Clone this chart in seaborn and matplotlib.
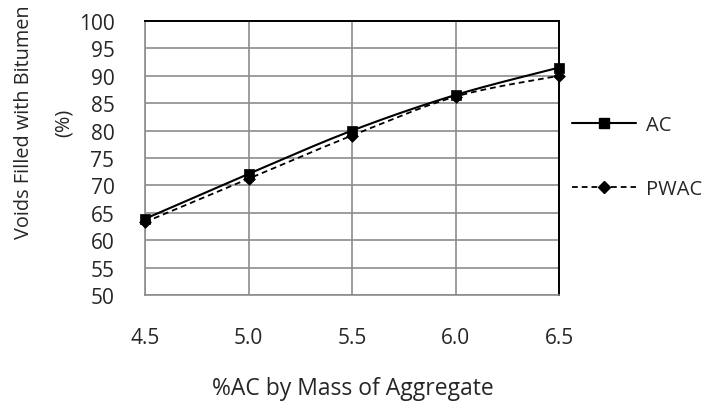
import numpy as np
import pandas as pd
import matplotlib
matplotlib.use("Agg")
import matplotlib.pyplot as plt
import seaborn as sns
from matplotlib.lines import Line2D

# Asphalt content (% by mass of aggregate) and voids filled with bitumen (%)
ac_content = [4.5, 5.0, 5.5, 6.0, 6.5]
vfb_ac = [63.9, 72.1, 80.0, 86.5, 91.5]
vfb_pwac = [63.3, 71.2, 79.1, 86.2, 90.0]
x_ticks = [4.5, 5.0, 5.5, 6.0, 6.5]
y_ticks = [50, 55, 60, 65, 70, 75, 80, 85, 90, 95, 100]
series_names = ["AC", "PWAC"]


def smooth_curve(x, y, steps=40):
    """Cubic Bezier curve through the points, control points taken from neighbours."""
    pts = np.column_stack([x, y]).astype(float)
    n = len(pts)
    out = [pts[0]]
    t = np.linspace(0, 1, steps)[1:, None]
    for i in range(n - 1):
        p0, p3 = pts[i], pts[i + 1]
        prev = pts[i - 1] if i > 0 else pts[i]
        nxt = pts[i + 2] if i + 2 < n else pts[i + 1]
        c1 = p0 + (p3 - prev) / 6.0
        c2 = p3 - (nxt - p0) / 6.0
        seg = ((1 - t) ** 3) * p0 + 3 * ((1 - t) ** 2) * t * c1 + 3 * (1 - t) * t ** 2 * c2 + t ** 3 * p3
        out.extend(seg)
    out = np.array(out)
    return out[:, 0], out[:, 1]


sns.set_theme(style="white")
plt.rcParams["font.family"] = ["Open Sans", "DejaVu Sans"]
FS = 15
TEXT = "#262626"

fig = plt.figure(figsize=(7.08, 4.10), dpi=100)
W, H = 708, 410
left, right, top, bottom = 145, 559, 22, 296
ax = fig.add_axes([left / W, 1 - bottom / H, (right - left) / W, (bottom - top) / H])

styles = {
    "AC": dict(values=vfb_ac, dashes=None, marker="s", msize=44),
    "PWAC": dict(values=vfb_pwac, dashes=(3.2, 2.2), marker="D", msize=36),
}

for name in series_names:
    st = styles[name]
    sx, sy = smooth_curve(ac_content, st["values"])
    curve = pd.DataFrame({"x": sx, "y": sy})
    sns.lineplot(data=curve, x="x", y="y", sort=False, estimator=None, ax=ax,
                 color="black", linewidth=1.5 if st["dashes"] is None else 1.3)
    if st["dashes"] is not None:
        ax.lines[-1].set_dashes(st["dashes"])
    pts = pd.DataFrame({"x": ac_content, "y": st["values"]})
    sns.scatterplot(data=pts, x="x", y="y", marker=st["marker"], s=st["msize"],
                    color="black", edgecolor="black", linewidth=0.5, ax=ax,
                    zorder=5, clip_on=False)

ax.set_xlim(4.5, 6.5)
ax.set_ylim(50, 100)
ax.set_xticks(x_ticks)
ax.set_xticklabels([f"{v:.1f}" for v in x_ticks])
ax.set_yticks(y_ticks)
ax.set_yticklabels([str(v) for v in y_ticks])
ax.grid(True, color="#8c8c8c", linewidth=1.2)
ax.set_axisbelow(True)
ax.tick_params(axis="both", length=0, labelsize=FS, colors=TEXT)
ax.tick_params(axis="y", pad=22)
ax.tick_params(axis="x", pad=23)
ax.set_xlabel("")
ax.set_ylabel("")
for side in ["left", "bottom"]:
    ax.spines[side].set_color("#8c8c8c")
    ax.spines[side].set_linewidth(1.2)
for side in ["top", "right"]:
    ax.spines[side].set_color("black")
    ax.spines[side].set_linewidth(1.4)
for sp in ax.spines.values():
    sp.set_visible(True)

# Axis titles
fig.text(353 / W, 1 - 389 / H, "%AC by Mass of Aggregate", ha="center", va="center",
         fontsize=16.5, color=TEXT)
fig.text(24 / W, 1 - 122 / H, "Voids Filled with Bitumen", rotation=90, ha="center",
         va="center", fontsize=14.3, color=TEXT)
fig.text(64 / W, 1 - 123 / H, "(%)", rotation=90, ha="center", va="center",
         fontsize=14.3, color=TEXT)

# Legend
handles = [
    Line2D([], [], color="black", linewidth=1.5, marker="s", markersize=6.5),
    Line2D([], [], color="black", linewidth=1.3, linestyle=(0, (3.2, 2.2)), marker="D",
           markersize=6),
]
fig.legend(handles, series_names, loc="center left",
           bbox_to_anchor=(572 / W, 1 - 158 / H), bbox_transform=fig.transFigure,
           frameon=False, fontsize=14.5, handlelength=3.2, handletextpad=0.45,
           labelspacing=2.2, borderpad=0, borderaxespad=0, labelcolor=TEXT)

fig.savefig("out.png", dpi=100, facecolor="white")
